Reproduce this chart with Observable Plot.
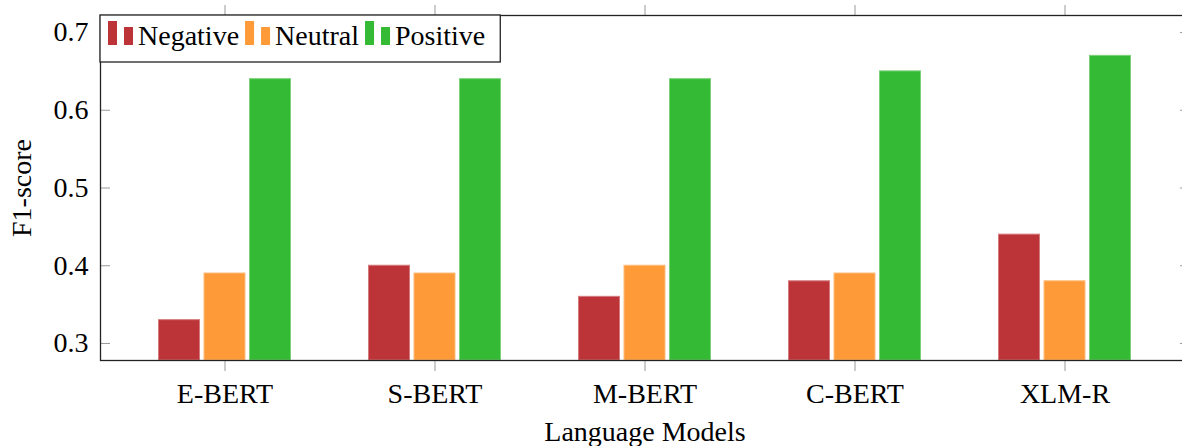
<!DOCTYPE html>
<html><head><meta charset="utf-8">
<script src="https://cdn.jsdelivr.net/npm/d3@7"></script>
<script src="https://cdn.jsdelivr.net/npm/@observablehq/plot@0.6"></script>
<style>
html,body{margin:0;padding:0;overflow:hidden;background:#fff;}
#wrap{width:1182px;height:446px;overflow:hidden;position:relative;}
#wrap svg{max-width:none !important;width:1190px;height:446px;}
</style></head><body><div id="wrap"></div>
<script>
const models = ["E-BERT","S-BERT","M-BERT","C-BERT","XLM-R"];
const sentiments = ["Negative","Neutral","Positive"];
const negative = [0.33,0.40,0.36,0.38,0.44];
const neutral  = [0.39,0.39,0.40,0.39,0.38];
const positive = [0.64,0.64,0.64,0.65,0.67];
const colors = ["#bd3438","#fe9a37","#34ba34"];
const yTicks = [0.3,0.4,0.5,0.6,0.7];
const yDomain = [0.2781, 0.7219];
const xLabel = "Language Models";
const yLabel = "F1-score";

const series = [negative, neutral, positive];
const data = sentiments.flatMap((s,i)=>models.map((m,j)=>({model:m, sentiment:s, value:series[i][j]})));

const W=1190, H=446, ML=100, MR=1, MT=15, MB=86;
const step = 45.5;
const font = "'Liberation Serif','Times New Roman',serif";
const tickGray = "#9a9a9a";

const plot = Plot.plot({
  width: W, height: H, marginLeft: ML, marginRight: MR, marginTop: MT, marginBottom: MB,
  style: {fontFamily: font, fontSize: "28px", background: "white", color: "black", overflow: "visible", maxWidth: "none"},
  x: {domain: models, paddingInner: 0.80476, paddingOuter: 0.4952, round: false, label: null, axis: null},
  y: {domain: yDomain, label: null, axis: null},
  marks: [
    ...sentiments.map((s,i)=>Plot.barY(data.filter(d=>d.sentiment===s), {
      x: "model", y1: yDomain[0], y2: "value", fill: colors[i],
      stroke: d3.interpolateRgb(colors[i], "white")(0.35), strokeWidth: 1,
      dx: (i-1)*step
    })),
    Plot.axisY(yTicks, {anchor:"left", tickSize: 0, tickPadding: 12, tickFormat: d3.format(".1f"), fontSize: 28, label: null}),
    Plot.axisY(yTicks, {anchor:"left", tickSize: 10, dx: 10, tickFormat: ()=>"", stroke: tickGray, label: null}),
    Plot.axisY(yTicks, {anchor:"right", tickSize: 10, dx: -10, tickFormat: ()=>"", stroke: tickGray, label: null}),
    Plot.axisX({anchor:"bottom", tickSize: 11, tickPadding: 12, stroke: tickGray, fill: "black", fontSize: 28, label: null}),
    Plot.axisX({anchor:"top", tickSize: 11, tickFormat: ()=>"", stroke: tickGray, label: null}),
    Plot.frame({stroke: "#222", strokeWidth: 1.3}),
    Plot.text([xLabel], {frameAnchor: "bottom", lineAnchor: "middle", textAnchor: "middle", dy: 72, fontSize: 28, fill: "black"}),
    Plot.text([yLabel], {frameAnchor: "left", lineAnchor: "middle", textAnchor: "middle", dx: -78, rotate: -90, fontSize: 28, fill: "black"})
  ]
});
document.getElementById("wrap").appendChild(plot);

// legend (top-left inside the plot frame)
const svg = d3.select(plot);
const lg = svg.append("g").attr("font-family", font).attr("font-size", 28).attr("text-anchor", "start");
const box = lg.append("rect").attr("x", ML).attr("y", MT).attr("height", 47)
  .attr("fill", "white").attr("stroke", "#222").attr("stroke-width", 1.3);
let x = ML + 8;
sentiments.forEach((s,i)=>{
  lg.append("rect").attr("x", x).attr("y", 21).attr("width", 9).attr("height", 24).attr("fill", colors[i]);
  lg.append("rect").attr("x", x+16).attr("y", 27).attr("width", 9).attr("height", 18).attr("fill", colors[i]);
  const t = lg.append("text").attr("x", x+30).attr("y", 45).attr("fill", "black").attr("text-anchor", "start").text(s);
  const w = t.node().getComputedTextLength();
  x = x + 30 + w + 6;
});
box.attr("width", x - 6 + 15 - ML);
</script></body></html>
